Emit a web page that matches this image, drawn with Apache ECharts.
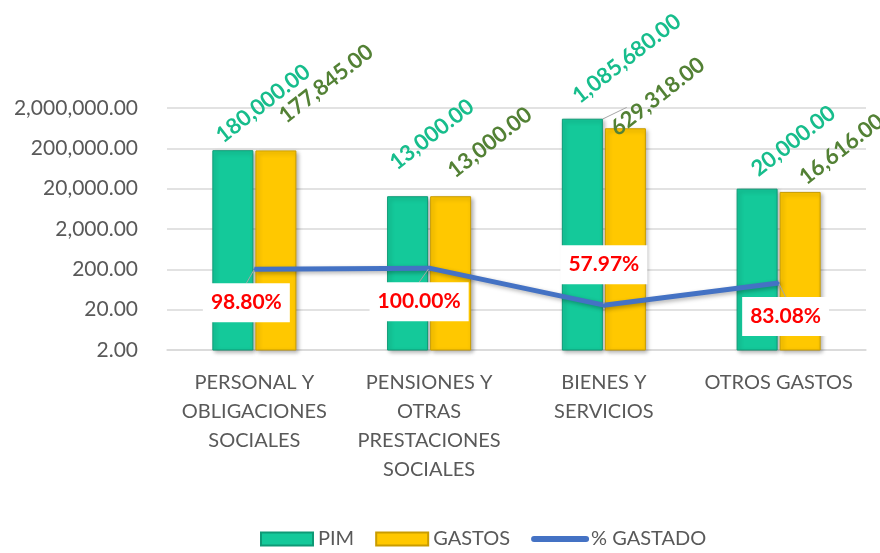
<!DOCTYPE html>
<html>
<head>
<meta charset="utf-8">
<title>PIM / GASTOS</title>
<style>
  html, body { margin: 0; padding: 0; background: #fff; }
  #chart { width: 880px; height: 553px; }
</style>
</head>
<body>
<div id="chart"></div>
<script src="https://cdn.jsdelivr.net/npm/echarts@6/dist/echarts.min.js"></script>
<script>
var categorias = ['PERSONAL Y\nOBLIGACIONES\nSOCIALES', 'PENSIONES Y\nOTRAS\nPRESTACIONES\nSOCIALES', 'BIENES Y\nSERVICIOS', 'OTROS GASTOS'];
var pim = [180000, 13000, 1085680, 20000];
var gastos = [177845, 13000, 629318, 16616];
var gastado = [98.80, 100.00, 57.97, 83.08];
var ticksY = [2, 20, 200, 2000, 20000, 200000, 2000000];

var fuente = 'Lato';
var giro = 38;
var iMax = pim.indexOf(Math.max.apply(null, pim));

// manual nudges of the labels on screen (px), as placed in the original sheet
var movPim = [[-14, -2], [-15, -21], [-7, -10], [-3, -7]];
var movGastos = [[6, -22], [0, -13], [-12, 13], [2, -2]];
var movLinea = [[-8, 0], [-10, 0], [0, -4], [7, 0]];

function num(v) {
    return echarts.format.addCommas(Number(v).toFixed(2));
}

function barLabel(color, values) {
    return {
        show: true,
        position: 'top',
        distance: 10,
        rotate: giro,
        align: 'left',
        verticalAlign: 'middle',
        color: color,
        fontFamily: fuente,
        fontWeight: 'bold',
        fontSize: 22,
        formatter: function (p) { return num(values[p.dataIndex]); }
    };
}

// dx/dy of a rotated label act in the label's own frame, so turn the screen nudge into it
function mover(tabla, grados) {
    var a = (grados || 0) * Math.PI / 180;
    var c = Math.cos(a), s = Math.sin(a);
    return function (p) {
        var m = tabla[p.dataIndex];
        return { dx: m[0] * c - m[1] * s, dy: m[0] * s + m[1] * c };
    };
}

var sombra = {
    shadowBlur: 4,
    shadowOffsetX: 2,
    shadowOffsetY: 2,
    shadowColor: 'rgba(0,0,0,0.3)'
};

var guia = { lineStyle: { color: '#a6a6a6', width: 1 } };

var chart = echarts.init(document.getElementById('chart'));
chart.setOption({
    animation: false,
    textStyle: { fontFamily: fuente },
    grid: { left: 167, right: 14, top: 108, bottom: 203 },
    legend: {
        bottom: -1,
        left: 255,
        itemWidth: 52,
        itemHeight: 13,
        itemGap: 21,
        textStyle: { fontSize: 20, color: '#595959', fontFamily: fuente },
        data: [
            { name: 'PIM', icon: 'rect' },
            { name: 'GASTOS', icon: 'rect' },
            { name: '% GASTADO', itemStyle: { opacity: 0 }, lineStyle: { width: 6, cap: 'round' } }
        ]
    },
    xAxis: {
        type: 'category',
        data: categorias,
        axisTick: { show: false },
        axisLine: { lineStyle: { color: '#d9d9d9', width: 1.5 } },
        axisLabel: {
            interval: 0,
            margin: 18,
            fontSize: 20,
            lineHeight: 29,
            color: '#595959',
            fontFamily: fuente
        }
    },
    yAxis: [{
        type: 'log',
        logBase: 10,
        min: 2,
        max: 2000000,
        axisLine: { show: false },
        axisTick: { show: false, customValues: ticksY },
        splitLine: { lineStyle: { color: '#d9d9d9', width: 1.5 } },
        axisLabel: {
            customValues: ticksY,
            margin: 29,
            fontSize: 21,
            color: '#595959',
            fontFamily: fuente,
            formatter: function (v) { return num(v); }
        }
    }, {
        type: 'value',
        min: 7,
        max: 282,
        show: false,
        splitLine: { show: false }
    }],
    series: [{
        name: 'PIM',
        type: 'bar',
        // the tallest bar's label is tied back with a guide line
        data: pim.map(function (v, i) {
            return i === iMax ? { value: v, labelLine: { show: true } } : v;
        }),
        barWidth: 41,
        barGap: '5%',
        itemStyle: Object.assign({ color: '#14c99a', borderColor: '#0e9a76', borderWidth: 1 }, sombra),
        label: barLabel('#17bd8c', pim),
        labelLine: guia,
        labelLayout: mover(movPim, giro)
    }, {
        name: 'GASTOS',
        type: 'bar',
        data: gastos,
        barWidth: 41,
        itemStyle: Object.assign({ color: '#ffc800', borderColor: '#c99c00', borderWidth: 1 }, sombra),
        label: barLabel('#538135', gastos),
        labelLayout: mover(movGastos, giro)
    }, {
        name: '% GASTADO',
        type: 'line',
        yAxisIndex: 1,
        z: 4,
        symbol: 'circle',
        symbolSize: 2,
        // the third point dips between the bars, so its label sits above
        data: gastado.map(function (v, i) {
            return i === 2 ? { value: v, label: { position: 'top', distance: 16 } } : v;
        }),
        itemStyle: { color: '#4472c4' },
        lineStyle: Object.assign({ color: '#4472c4', width: 5 }, sombra),
        label: {
            show: true,
            position: 'bottom',
            distance: 13,
            color: '#ff0000',
            fontFamily: fuente,
            fontWeight: 'bold',
            fontSize: 21,
            backgroundColor: '#ffffff',
            padding: [9, 8, 9, 8],
            formatter: function (p) { return p.value.toFixed(2) + '%'; }
        },
        labelLine: Object.assign({ show: true }, guia),
        labelLayout: mover(movLinea, 0)
    }]
});
</script>
</body>
</html>
